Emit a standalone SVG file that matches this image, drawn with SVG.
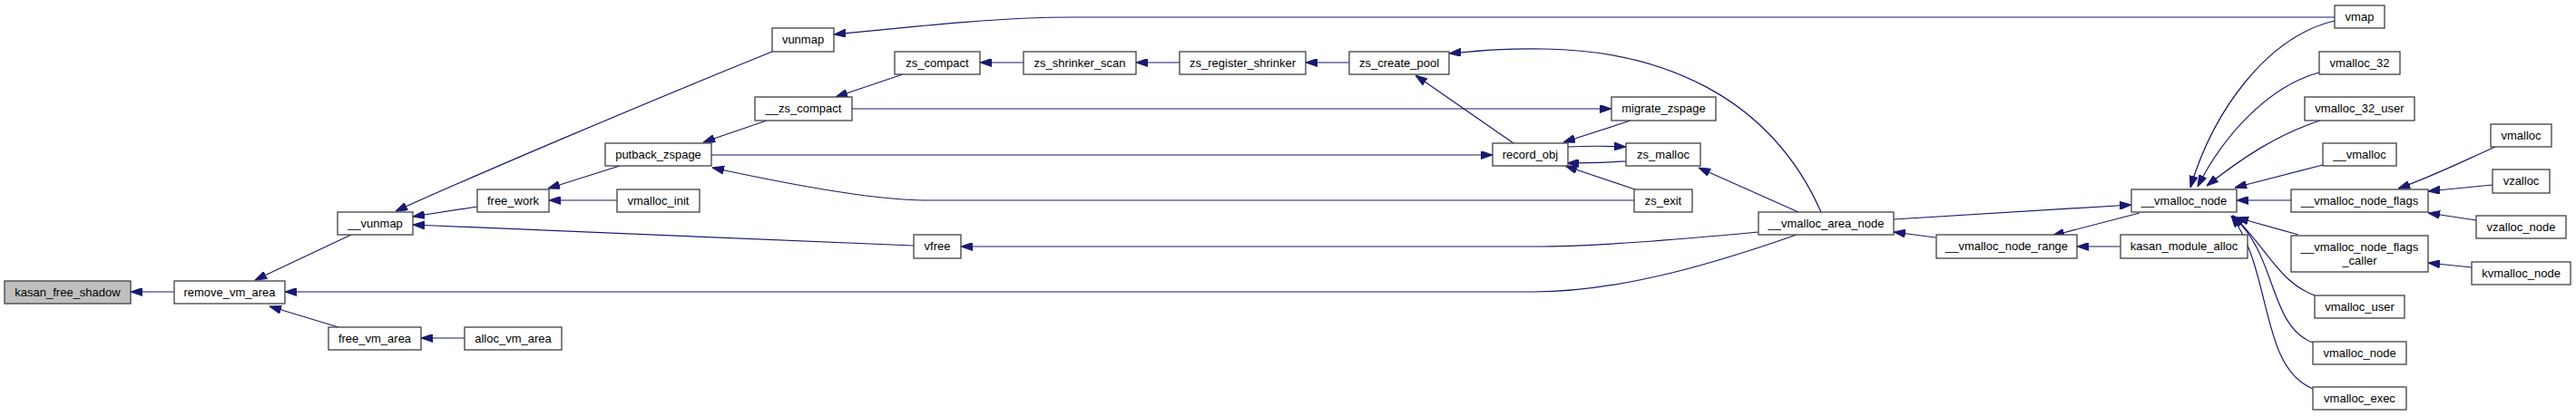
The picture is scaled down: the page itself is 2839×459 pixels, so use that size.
<svg xmlns="http://www.w3.org/2000/svg" width="2839" height="459" viewBox="0 0 2839 459">
<style>
.n rect{fill:#ffffff;stroke:#404040;stroke-width:1.3}
.n text{font-family:"Liberation Sans",Arial,sans-serif;font-size:13px;fill:#000;text-anchor:middle}
.e path{fill:none;stroke:#191970;stroke-width:1.2;marker-end:url(#a)}
</style>
<defs>
<marker id="a" markerUnits="userSpaceOnUse" markerWidth="13" markerHeight="9" viewBox="0 0 13 9" refX="13" refY="4.5" orient="auto">
<path d="M0,0 L13,4.5 L0,9 z" fill="#191970" stroke="#191970" stroke-width="1"/>
</marker>
</defs>
<rect width="2839" height="459" fill="#ffffff"/>
<g id="edges" class="e">
<path d="M192,322 L144,322"/>
<path d="M387,259 L281,309"/>
<path d="M373,361 L297,338"/>
<path d="M1980,259 C1900,287 1790,322 1690,322 L314,322"/>
<path d="M512,373 L464,373"/>
<path d="M851,57 C700,118 520,195 436,233"/>
<path d="M526,228 L455,239"/>
<path d="M1007,271 C950,269 700,258 455,248"/>
<path d="M683,183 L604,208"/>
<path d="M680,221 L605,221"/>
<path d="M845,133 L775,157"/>
<path d="M784,171 L1645,171"/>
<path d="M1801,221 L1020,221 C980,221 900,210 785,185"/>
<path d="M995,82 L921,107"/>
<path d="M939,120 L1776,120"/>
<path d="M1128,69 L1080,69"/>
<path d="M1300,69 L1252,69"/>
<path d="M1487,69 L1439,69"/>
<path d="M2007,234 C1950,105 1830,56 1703,54 C1660,53 1630,56 1597,59"/>
<path d="M1668,158 L1560,83"/>
<path d="M1797,133 L1723,157"/>
<path d="M1728,162 C1750,161 1770,161 1792,162"/>
<path d="M1792,178 C1770,179 1750,180 1727,180"/>
<path d="M1802,209 L1725,183"/>
<path d="M1982,234 L1872,185"/>
<path d="M1938,256 C1850,264 1760,272 1690,272 L1059,272"/>
<path d="M2573,19 L1180,19 C1100,19 1000,30 919,38"/>
<path d="M2087,242 L2349,226"/>
<path d="M2133,262 L2087,256"/>
<path d="M2358,235 L2262,260"/>
<path d="M2337,272 L2289,272"/>
<path d="M2573,23 C2500,40 2440,120 2414,207"/>
<path d="M2556,80 C2500,95 2450,150 2422,206"/>
<path d="M2557,133 C2510,148 2470,175 2432,205"/>
<path d="M2560,182 L2463,207"/>
<path d="M2525,221 L2465,221"/>
<path d="M2533,259 L2465,240"/>
<path d="M2551,326 C2510,310 2500,275 2461,238"/>
<path d="M2549,378 C2500,360 2510,280 2460,238"/>
<path d="M2549,429 C2490,405 2505,300 2459,238"/>
<path d="M2750,162 C2710,180 2680,195 2643,208"/>
<path d="M2747,204 L2676,211"/>
<path d="M2729,243 L2676,235"/>
<path d="M2724,295 L2676,290"/>
</g>
<g id="kasan_free_shadow" class="n"><rect x="5" y="310" width="139" height="25" style="fill:#bfbfbf"/><text x="74.5" y="327">kasan_free_shadow</text></g>
<g id="remove_vm_area" class="n"><rect x="192" y="310" width="122" height="25"/><text x="253" y="327">remove_vm_area</text></g>
<g id="__vunmap" class="n"><rect x="372" y="234" width="83" height="25"/><text x="413.5" y="251">__vunmap</text></g>
<g id="free_vm_area" class="n"><rect x="362" y="361" width="102" height="25"/><text x="413" y="378">free_vm_area</text></g>
<g id="vunmap" class="n"><rect x="851" y="31" width="68" height="26"/><text x="885" y="48">vunmap</text></g>
<g id="__zs_compact" class="n"><rect x="832" y="107" width="107" height="26"/><text x="885.5" y="124">__zs_compact</text></g>
<g id="putback_zspage" class="n"><rect x="667" y="158" width="117" height="25"/><text x="725.5" y="175">putback_zspage</text></g>
<g id="free_work" class="n"><rect x="526" y="209" width="79" height="25"/><text x="565.5" y="226">free_work</text></g>
<g id="vmalloc_init" class="n"><rect x="680" y="209" width="91" height="25"/><text x="725.5" y="226">vmalloc_init</text></g>
<g id="alloc_vm_area" class="n"><rect x="512" y="361" width="107" height="25"/><text x="565.5" y="378">alloc_vm_area</text></g>
<g id="zs_compact" class="n"><rect x="986" y="57" width="94" height="25"/><text x="1033" y="74">zs_compact</text></g>
<g id="zs_shrinker_scan" class="n"><rect x="1128" y="57" width="124" height="25"/><text x="1190" y="74">zs_shrinker_scan</text></g>
<g id="zs_register_shrinker" class="n"><rect x="1300" y="57" width="139" height="25"/><text x="1369.5" y="74">zs_register_shrinker</text></g>
<g id="vfree" class="n"><rect x="1007" y="259" width="52" height="26"/><text x="1033" y="276">vfree</text></g>
<g id="zs_create_pool" class="n"><rect x="1487" y="57" width="110" height="25"/><text x="1542" y="74">zs_create_pool</text></g>
<g id="migrate_zspage" class="n"><rect x="1776" y="107" width="115" height="26"/><text x="1833.5" y="124">migrate_zspage</text></g>
<g id="record_obj" class="n"><rect x="1645" y="158" width="83" height="25"/><text x="1686.5" y="175">record_obj</text></g>
<g id="zs_malloc" class="n"><rect x="1792" y="158" width="82" height="25"/><text x="1833" y="175">zs_malloc</text></g>
<g id="zs_exit" class="n"><rect x="1801" y="209" width="64" height="25"/><text x="1833" y="226">zs_exit</text></g>
<g id="__vmalloc_area_node" class="n"><rect x="1938" y="234" width="149" height="25"/><text x="2012.5" y="251">__vmalloc_area_node</text></g>
<g id="__vmalloc_node_range" class="n"><rect x="2134" y="259" width="155" height="26"/><text x="2211.5" y="276">__vmalloc_node_range</text></g>
<g id="kasan_module_alloc" class="n"><rect x="2337" y="259" width="140" height="26"/><text x="2407" y="276">kasan_module_alloc</text></g>
<g id="__vmalloc_node" class="n"><rect x="2349" y="209" width="116" height="25"/><text x="2407" y="226">__vmalloc_node</text></g>
<g id="vmap" class="n"><rect x="2573" y="6" width="55" height="25"/><text x="2600.5" y="23">vmap</text></g>
<g id="vmalloc_32" class="n"><rect x="2556" y="57" width="89" height="25"/><text x="2600.5" y="74">vmalloc_32</text></g>
<g id="vmalloc_32_user" class="n"><rect x="2540" y="107" width="121" height="26"/><text x="2600.5" y="124">vmalloc_32_user</text></g>
<g id="__vmalloc" class="n"><rect x="2560" y="158" width="81" height="25"/><text x="2600.5" y="175">__vmalloc</text></g>
<g id="__vmalloc_node_flags" class="n"><rect x="2525" y="209" width="151" height="25"/><text x="2600.5" y="226">__vmalloc_node_flags</text></g>
<g id="__vmalloc_node_flags_caller" class="n"><rect x="2525" y="260" width="151" height="40"/><text x="2600.5" y="276.5">__vmalloc_node_flags</text><text x="2600.5" y="291.5">_caller</text></g>
<g id="vmalloc_user" class="n"><rect x="2551" y="326" width="99" height="25"/><text x="2600.5" y="343">vmalloc_user</text></g>
<g id="vmalloc_node" class="n"><rect x="2549" y="377" width="103" height="25"/><text x="2600.5" y="394">vmalloc_node</text></g>
<g id="vmalloc_exec" class="n"><rect x="2549" y="427" width="103" height="25"/><text x="2600.5" y="444">vmalloc_exec</text></g>
<g id="vmalloc" class="n"><rect x="2745" y="137" width="67" height="25"/><text x="2778.5" y="154">vmalloc</text></g>
<g id="vzalloc" class="n"><rect x="2747" y="187" width="63" height="26"/><text x="2778.5" y="204">vzalloc</text></g>
<g id="vzalloc_node" class="n"><rect x="2729" y="238" width="99" height="25"/><text x="2778.5" y="255">vzalloc_node</text></g>
<g id="kvmalloc_node" class="n"><rect x="2724" y="289" width="109" height="25"/><text x="2778.5" y="306">kvmalloc_node</text></g>
</svg>
